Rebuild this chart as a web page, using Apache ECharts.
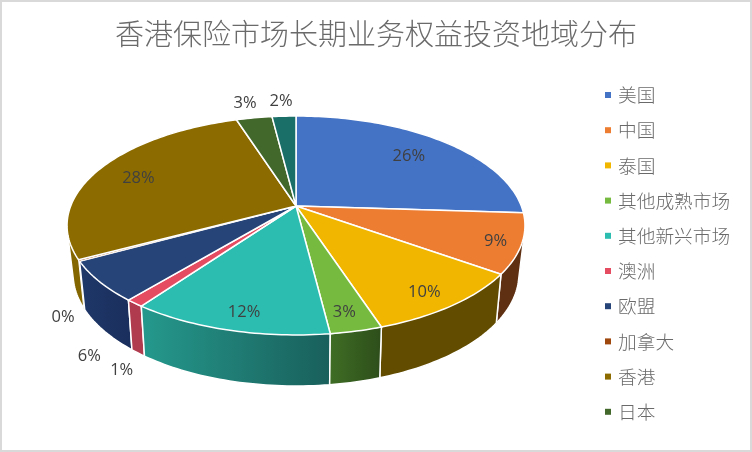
<!DOCTYPE html>
<html><head><meta charset="utf-8">
<style>html,body{margin:0;padding:0;background:#fff}#c{width:752px;height:452px;box-sizing:border-box;border:2px solid #d9d9d9}</style>
<script src="https://cdn.jsdelivr.net/npm/echarts@6/dist/echarts.min.js"></script>
</head><body><div id="c"></div>
<script>
const titleText = '香港保险市场长期业务权益投资地域分布';
const categories = ['美国','中国','泰国','其他成熟市场','其他新兴市场','澳洲','欧盟','加拿大','香港','日本','其他'];
const values = [26, 8.8, 10.1, 3.1, 12, 1.1, 6, 0.2, 27.7, 3, 2];
const legendNames = categories.slice(0, 10);
const topColors = ['#4472c4','#ed7d31','#f0b600','#76bb40','#2cbdb0','#e54c62','#264478','#9e480e','#8c6c00','#43682b','#1a6f69'];
const wallColors = ['#2a4a80','#5f3112','#624c00',['#3f6e25','#2d4d1a'],['#25998d','#195f5b'],'#b13b4e',['#1e3869','#1a2e5c'],'#6b3009','#846600','#2f4a1e','#124d49'];
// label placement: [radius fraction on the top face, pixel offset x, pixel offset y]
const labelPlace = [[.75,0,0],[.89,0,2],[.87,-5,2],[.86,-2,2],[.865,5,2],[1,-13,67],[1,-10,75],[1,-16,57],[.79,-1,2],[1,-9,-15],[1,-3,-15]];

// Perspective view of the pie disc (offsets are relative to the chart's 2px border)
const view = {cx:294, k:.178, A:225.3, topY:204, topB:106, botK:.186, botA:219, botY:251.2, botB:108.1};
const total = values.reduce((a,b)=>a+b,0);
const starts = []; values.reduce((a,v,i)=>(starts[i]=a,a+v),0);
function rim(theta, r, bottom){
  const u = r*Math.sin(theta), v = -r*Math.cos(theta);
  if (bottom) { const w = 1 - view.botK*v; return [view.cx + view.botA*u/w, view.botY + view.botB*v/w]; }
  const w = 1 - view.k*v;
  return [view.cx + view.A*u/w, view.topY + view.topB*v/w];
}
const angle = s => s/total*2*Math.PI;
function arc(a0,a1,bottom){
  const n = Math.max(2, Math.ceil((a1-a0)/0.02)), pts=[];
  for(let j=0;j<=n;j++) pts.push(rim(a0+(a1-a0)*j/n,1,bottom));
  return pts;
}
function hull(points){
  const p = points.slice().sort((a,b)=>a[0]-b[0]||a[1]-b[1]);
  const cross=(o,a,b)=>(a[0]-o[0])*(b[1]-o[1])-(a[1]-o[1])*(b[0]-o[0]);
  const lo=[],up=[];
  for(const q of p){while(lo.length>1&&cross(lo[lo.length-2],lo[lo.length-1],q)<=0)lo.pop();lo.push(q);}
  for(const q of p.slice().reverse()){while(up.length>1&&cross(up[up.length-2],up[up.length-1],q)<=0)up.pop();up.push(q);}
  return lo.slice(0,-1).concat(up.slice(0,-1));
}
function fillOf(c){
  return Array.isArray(c) ? new echarts.graphic.LinearGradient(0,0,1,0,[{offset:0,color:c[0]},{offset:1,color:c[1]}]) : c;
}
function strokeWidth(i){ return values[i]/total < .005 ? 1 : 1.5; }
function renderWall(p, api){
  const i = p.dataIndex, a0 = angle(starts[i]), a1 = angle(starts[i]+values[i]);
  const mid = (a0+a1)/2, pts = hull(arc(a0,a1,false).concat(arc(a0,a1,true)));
  return {type:'polygon', shape:{points:pts}, z2: Math.round(100 - Math.abs(mid-Math.PI)*10),
    style:{fill:fillOf(wallColors[i]), stroke:'#fff', lineWidth:strokeWidth(i), lineJoin:'round'}};
}
function renderTop(p, api){
  const i = p.dataIndex, a0 = angle(starts[i]), a1 = angle(starts[i]+values[i]);
  const pts = [rim(0,0,false)].concat(arc(a0,a1,false));
  return {type:'polygon', shape:{points:pts},
    style:{fill:topColors[i], stroke:'#fff', lineWidth:strokeWidth(i), lineJoin:'round'}};
}
function renderLabel(p, api){
  const i = p.dataIndex, mid = angle(starts[i]+values[i]/2), lp = labelPlace[i];
  const q = rim(mid, lp[0], false);
  return {type:'text', style:{text:Math.round(values[i]/total*100)+'%', x:q[0]+lp[1], y:q[1]+lp[2],
    fill:'#404040', font:'16.5px "Open Sans", "Noto Sans", sans-serif', align:'center', verticalAlign:'middle'}};
}
const chart = echarts.init(document.getElementById('c'), null, {renderer:'canvas'});
chart.setOption({
  animation:false,
  backgroundColor:'#fff',
  title:{text:titleText, left:'center', top:12.5,
    textStyle:{fontFamily:'"Noto Sans CJK SC"', fontSize:29, fontWeight:300, color:'#6a6a6a'}},
  legend:{orient:'vertical', left:603, top:83, padding:0, data:legendNames, icon:'rect', itemWidth:6, itemHeight:6, itemGap:15.2,
    selectedMode:false, textStyle:{fontFamily:'"Noto Sans CJK SC"', fontSize:18.7, fontWeight:300, lineHeight:20, color:'#6a6a6a', padding:[0,0,0,2]}},
  series:[
    {type:'pie', radius:[0,0], center:[294,204], silent:true, label:{show:false}, labelLine:{show:false},
     data:categories.map((n,i)=>({name:n,value:values[i],itemStyle:{color:topColors[i]}}))},
    {type:'custom', coordinateSystem:'none', silent:true, z:2, data:values, renderItem:renderWall},
    {type:'custom', coordinateSystem:'none', silent:true, z:3, data:values, renderItem:renderTop},
    {type:'custom', coordinateSystem:'none', silent:true, z:4, data:values, renderItem:renderLabel}
  ]
});
</script></body></html>
